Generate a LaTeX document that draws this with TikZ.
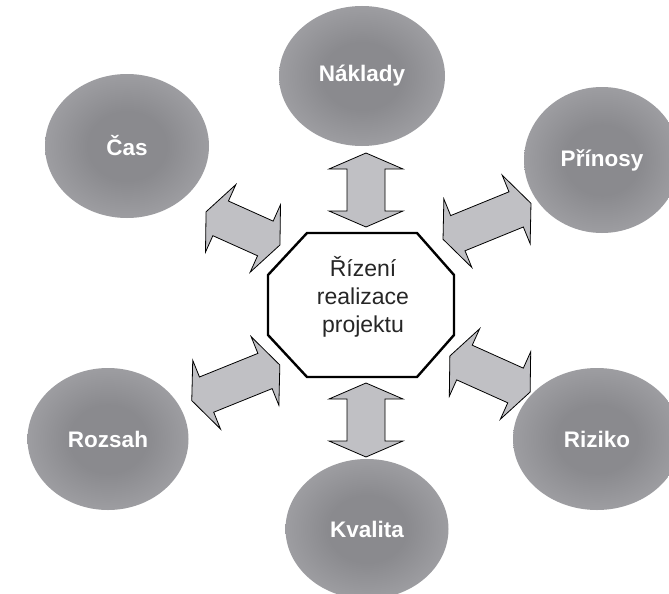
\documentclass[tikz,border=0pt]{standalone}
\usepackage{fontspec}
\setmainfont{Liberation Sans}
\usetikzlibrary{shapes.geometric}

\definecolor{arrowgray}{RGB}{192,192,196}
\definecolor{bubbleinner}{RGB}{138,138,142}
\definecolor{bubbleouter}{RGB}{194,194,198}
\pgfdeclareradialshading{bubbleshade}{\pgfpoint{0bp}{0bp}}{%
  color(0bp)=(bubbleinner); color(12bp)=(bubbleinner); color(50bp)=(bubbleouter)}

\begin{document}
\begin{tikzpicture}[x=1pt,y=-1pt,
  bubble/.style={ellipse, shading=bubbleshade, inner sep=0pt,
    text=white, font=\bfseries\fontsize{22.5}{27}\selectfont},
  octa/.style={draw=black, line width=2.4pt, fill=white, line join=miter},
  blockarrow/.style={draw=black, line width=0.8pt, fill=arrowgray, line join=miter},
  % double block arrow, #1 = half length; head 16 long, 74 wide; shaft 38 wide
  pics/dblarrow/.style={code={
    \path[blockarrow] (-#1,0) -- (-#1+16,-37) -- (-#1+16,-19) -- (#1-16,-19)
      -- (#1-16,-37) -- (#1,0) -- (#1-16,37) -- (#1-16,19) -- (-#1+16,19)
      -- (-#1+16,37) -- cycle;}}
]
\useasboundingbox (0,0) rectangle (669,594);
\fill[white] (0,0) rectangle (669,594);
\clip (0,0) rectangle (669,594);

% surrounding topics
\node[bubble, minimum width=166pt, minimum height=140pt] (naklady) at (362,76)  {Náklady};
\node[bubble, minimum width=164pt, minimum height=144pt] (cas)     at (127,146) {Čas};
\node[bubble, minimum width=156pt, minimum height=146pt] (prinosy) at (602,160) {Přínosy};
\node[bubble, minimum width=161pt, minimum height=142pt] (rozsah)  at (108,439) {Rozsah};
\node[bubble, minimum width=168pt, minimum height=142pt] (riziko)  at (597,439) {Riziko};
\node[bubble, minimum width=163pt, minimum height=140pt] (kvalita) at (367,529) {Kvalita};

% two-way arrows between the centre and each topic
\pic[rotate=90] (arrN) at (366,190) {dblarrow=37};
\pic[rotate=90] (arrS) at (366,420) {dblarrow=37};
\pic[rotate=-24.2] (arrNW) at (243,228.4) {dblarrow=40.5};
\pic[rotate=22.2]  (arrNE) at (487,221.3) {dblarrow=47.5};
\pic[rotate=22]    (arrSW) at (235.8,382.8) {dblarrow=47.5};
\pic[rotate=-24.2] (arrSE) at (490,374) {dblarrow=44};

% central octagon
\coordinate (octc) at (362,305);
\draw[octa] ([shift={(-55,-72)}]octc) -- ([shift={(55,-72)}]octc)
  -- ([shift={(92,-30)}]octc) -- ([shift={(92,30)}]octc)
  -- ([shift={(55,72)}]octc) -- ([shift={(-55,72)}]octc)
  -- ([shift={(-94,30)}]octc) -- ([shift={(-94,-30)}]octc) -- cycle;
\node[align=center, text=black!85, font=\fontsize{23}{28}\selectfont, inner sep=0pt]
  (rizeni) at (363,297) {Řízení\\realizace\\projektu};
\end{tikzpicture}
\end{document}
